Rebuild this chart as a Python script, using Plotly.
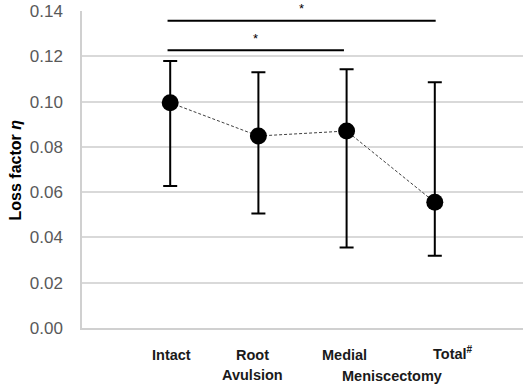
import plotly.graph_objects as go

# ---- data ----
categories = ["Intact", "Root Avulsion", "Medial Meniscectomy", "Total Meniscectomy"]
cat_pos = [1, 2, 3, 4]
means = [0.0995, 0.0848, 0.0870, 0.0555]
upper = [0.1179, 0.1129, 0.1143, 0.1085]
lower = [0.0627, 0.0506, 0.0356, 0.0319]

# significance comparisons (from index, to index, bar level, star level)
sig_from = [0, 0]
sig_to = [3, 2]
sig_bar_y = [0.1357, 0.1227]
sig_star_y = [0.1411, 0.1277]

Y_MAX = 0.14
y_ticks = [0.00, 0.02, 0.04, 0.06, 0.08, 0.10, 0.12, 0.14]
y_tick_text = ["0.00", "0.02", "0.04", "0.06", "0.08", "0.10", "0.12", "0.14"]

err_plus = [u - m for u, m in zip(upper, means)]
err_minus = [m - l for m, l in zip(means, lower)]

FONT = "Arial, Liberation Sans, sans-serif"

fig = go.Figure()
fig.add_trace(go.Scatter(
    x=cat_pos, y=means,
    mode="lines+markers",
    line=dict(color="#404040", width=1, dash="3px,2px"),
    marker=dict(size=17, color="black"),
    error_y=dict(type="data", array=err_plus, arrayminus=err_minus,
                 color="black", thickness=2, width=7),
    cliponaxis=False,
    showlegend=False,
))

shapes = []
annotations = []
for f, t, by, sy in zip(sig_from, sig_to, sig_bar_y, sig_star_y):
    x0 = cat_pos[f] - 0.03
    x1 = cat_pos[t] + 0.01 if t == 3 else cat_pos[t] - 0.03
    shapes.append(dict(type="line", xref="x", yref="y", x0=x0, x1=x1, y0=by, y1=by,
                       line=dict(color="black", width=2)))
    annotations.append(dict(xref="x", yref="paper", x=(x0 + x1) / 2, y=sy / Y_MAX, text="*",
                            showarrow=False, font=dict(family=FONT, size=13, color="black"),
                            xanchor="center", yanchor="middle"))

lab_font = dict(family=FONT, size=14.5, color="#1a1a1a")
label_specs = [
    (1.01, "<b>Intact</b>", -27),
    (1.93, "<b>Root</b>", -27),
    (1.93, "<b>Avulsion</b>", -47),
    (2.98, "<b>Medial</b>", -27),
    (4.21, "<b>Total<sup>#</sup></b>", -25),
    (3.51, "<b>Meniscectomy</b>", -48),
]
for x, txt, ys in label_specs:
    annotations.append(dict(xref="x", yref="paper", x=x, y=0, yshift=ys, text=txt,
                            showarrow=False, font=lab_font, xanchor="center", yanchor="middle"))

annotations.append(dict(xref="paper", yref="paper", x=-0.1497, y=0.5,
                        text="<b>Loss factor <i>η</i></b>", textangle=-90,
                        showarrow=False, font=dict(family=FONT, size=16, color="black"),
                        xanchor="center", yanchor="middle"))

fig.update_layout(
    width=526, height=386,
    margin=dict(l=82, r=3, t=11, b=58, autoexpand=False),
    paper_bgcolor="white", plot_bgcolor="white",
    font=dict(family=FONT),
    shapes=shapes,
    annotations=annotations,
    xaxis=dict(range=[0, 5], showgrid=False, zeroline=False, showticklabels=False,
               showline=True, linecolor="#d0d0d0", linewidth=1.5, ticks=""),
    yaxis=dict(range=[0, Y_MAX], tickvals=y_ticks, ticktext=y_tick_text,
               showgrid=True, gridcolor="#d9d9d9", gridwidth=1.5, zeroline=False,
               showline=True, linecolor="#d0d0d0", linewidth=1.5, ticks="",
               tickfont=dict(family=FONT, size=17, color="#595959"),
               ticklabelstandoff=14),
)

fig.write_html("out.html", config={"displayModeBar": False},
               post_script="document.body.style.margin='0';document.body.style.padding='0';")
